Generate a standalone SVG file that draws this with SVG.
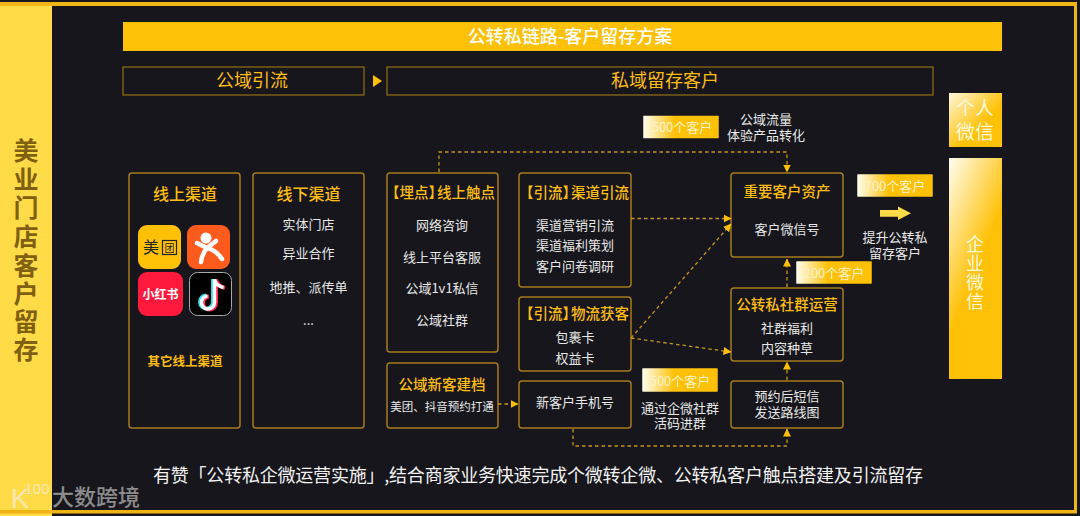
<svg xmlns="http://www.w3.org/2000/svg" width="1080" height="516" viewBox="0 0 1080 516">
<defs>
<linearGradient id="badge" x1="0" x2="1" y1="0" y2="0"><stop offset="0" stop-color="#fffdf0"/><stop offset="0.12" stop-color="#ffedb0"/><stop offset="0.42" stop-color="#ffc107"/><stop offset="1" stop-color="#ffc107"/></linearGradient>
<linearGradient id="wx" x1="0" x2="1" y1="0" y2="1"><stop offset="0" stop-color="#fff8dc"/><stop offset="0.6" stop-color="#ffc107"/></linearGradient>
<linearGradient id="wx2" x1="0" x2="0.35" y1="0" y2="0.6"><stop offset="0" stop-color="#fffdf0"/><stop offset="1" stop-color="#ffc107"/></linearGradient>
<marker id="ah" markerWidth="8" markerHeight="8" refX="7.500" refY="4" orient="auto" markerUnits="userSpaceOnUse"><path d="M0 0L8 4L0 8Z" fill="#ffc107"/></marker>
</defs>
<style>
text{font-family:"Noto Sans CJK SC","Noto Sans",sans-serif;text-anchor:middle}
.box{fill:#16161c;stroke:#a67c1a;stroke-width:1.500}
.h{fill:#ffbe0f;font-size:14.500px;font-weight:500}
.h2{fill:#ffbe0f;font-size:16px;font-weight:500}
.l{text-anchor:start}
.t{fill:#e8e8e8;font-size:13px}
.b{fill:url(#badge);stroke:#16161c;stroke-width:.5}
.bt{fill:#fff3c8;font-size:13px}
.c{fill:none;stroke:#c8951a;stroke-width:1.300;stroke-dasharray:3.500 3;marker-end:url(#ah)}
</style>
<rect width="1080" height="516" fill="#16161c"/>

<g id="sidebar"><rect x="0" y="3" width="52" height="513" fill="#ffdb47"/>
<text fill="#7f5f10" font-size="25" font-weight="700"><tspan x="26" y="160">美</tspan><tspan x="26" y="189">业</tspan><tspan x="26" y="217">门</tspan><tspan x="26" y="246">店</tspan><tspan x="26" y="275">客</tspan><tspan x="26" y="303">户</tspan><tspan x="26" y="331">留</tspan><tspan x="26" y="359">存</tspan></text></g>

<rect x="0" y="2" width="1077" height="4" fill="#f0b414"/>
<rect x="0" y="510" width="1077" height="3.500" fill="#f0b414"/>
<rect x="1074" y="2" width="3" height="511" fill="#f0b414"/>

<g id="title"><rect x="123" y="22" width="879" height="29" fill="#ffc107"/><text x="570" y="42.500" fill="#fff" font-size="18" font-weight="500">公转私链路-客户留存方案</text></g>
<g id="public-head"><rect x="123" y="67" width="241" height="28" fill="none" stroke="#8a6a18" stroke-width="1.300"/><text x="252" y="87" fill="#ffbe0f" font-size="18">公域引流</text></g>
<path d="M373 75L382 81L373 87Z" fill="#ffc107"/>
<g id="private-head"><rect x="387" y="67" width="546" height="28" fill="none" stroke="#8a6a18" stroke-width="1.300"/><text x="665" y="87" fill="#ffbe0f" font-size="18">私域留存客户</text></g>

<g id="online"><rect class="box" x="129" y="173" width="111" height="255" rx="3"/><text class="h2" x="185" y="200">线上渠道</text>
<rect x="138" y="225" width="43" height="44" rx="9" fill="#ffc107"/><text x="151" y="253" fill="#222" font-size="16">美</text><rect x="162.500" y="240.500" width="14" height="14" fill="none" stroke="#222" stroke-width="1.200"/><text x="169.500" y="251.500" fill="#222" font-size="10">团</text>
<rect x="187" y="225" width="43" height="44" rx="9" fill="#fd5a1e"/><circle cx="206" cy="238" r="5.500" fill="#fff"/><path d="M197 243L207 248L216 241M207 248Q202 254 201 262M207 248Q216 250 222 259" fill="none" stroke="#fff" stroke-width="4.500" stroke-linecap="round"/>
<rect x="138" y="272" width="45" height="44" rx="9" fill="#ff1a3d"/><text x="160.500" y="298.500" fill="#fff" font-size="12" font-weight="700">小红书</text>
<rect x="189.500" y="272.500" width="42" height="43" rx="8" fill="#000" stroke="#aaa" stroke-width="1"/><path d="M213 279V302A6.500 6.500 0 1 1 206 295.500" fill="none" stroke="#28e0e8" stroke-width="4"/><path d="M216 279V303A6.500 6.500 0 1 1 209 296.500M216 280Q218 286 225 288" fill="none" stroke="#ff2a55" stroke-width="4"/><path d="M214.500 279V302.500A6.500 6.500 0 1 1 207.500 296M214.500 280Q216.500 286 223.500 287.500" fill="none" stroke="#fff" stroke-width="3.500"/>
<text x="185" y="366" fill="#ffbe0f" font-size="12.500" font-weight="700">其它线上渠道</text></g>

<g id="offline"><rect class="box" x="253" y="173" width="111" height="255" rx="3"/><text class="h2" x="308.500" y="200">线下渠道</text>
<text class="t" x="308.500" y="229">实体门店</text><text class="t" x="308.500" y="258">异业合作</text><text class="t" x="308.500" y="292">地推、派传单</text><text class="t" x="308.500" y="325">...</text></g>

<g id="touch"><rect class="box" x="387" y="173" width="111" height="179" rx="3"/><text class="h l" x="385" y="198">【埋点】<tspan dx="-6">线上触点</tspan></text>
<text class="t" x="442" y="230">网络咨询</text><text class="t" x="442" y="262">线上平台客服</text><text class="t" x="442" y="293">公域1v1私信</text><text class="t" x="442" y="325">公域社群</text></g>

<g id="archive"><rect class="box" x="387" y="363" width="111" height="65" rx="3"/><text class="h" x="442" y="390">公域新客建档</text><text class="t" x="442" y="411" style="font-size:11.500px">美团、抖音预约打通</text></g>

<g id="channel"><rect class="box" x="519" y="173" width="112" height="114" rx="3"/><text class="h l" x="519" y="198">【引流】<tspan dx="-6">渠道引流</tspan></text>
<text class="t" x="575" y="230">渠道营销引流</text><text class="t" x="575" y="250">渠道福利策划</text><text class="t" x="575" y="271">客户问卷调研</text></g>

<g id="logistics"><rect class="box" x="519" y="297" width="112" height="74" rx="3"/><text class="h l" x="519" y="319">【引流】<tspan dx="-6">物流获客</tspan></text><text class="t" x="575" y="342">包裹卡</text><text class="t" x="575" y="363">权益卡</text></g>

<g id="phone"><rect class="box" x="519" y="381" width="112" height="47" rx="3"/><text class="t" x="575" y="407">新客户手机号</text></g>

<g id="asset"><rect class="box" x="731" y="173" width="112" height="84" rx="3"/><text class="h" x="787" y="197">重要客户资产</text><text class="t" x="787" y="234">客户微信号</text></g>

<g id="community"><rect class="box" x="731" y="288" width="112" height="73" rx="3"/><text class="h" x="787" y="310">公转私社群运营</text><text class="t" x="787" y="333">社群福利</text><text class="t" x="787" y="353">内容种草</text></g>

<g id="sms"><rect class="box" x="731" y="381" width="112" height="47" rx="3"/><text class="t" x="787" y="401">预约后短信</text><text class="t" x="787" y="417">发送路线图</text></g>

<g id="connectors">
<path class="c" d="M439 172V152H787V172"/>
<path class="c" d="M631 218.500H731"/>
<path class="c" d="M631 338L731 224"/>
<path class="c" d="M631 338L731 352"/>
<path class="c" d="M498 404H518"/>
<path class="c" d="M573 429V446H787V429"/>
<path class="c" d="M787 380V362"/>
<path class="c" d="M787 287V259"/>
</g>

<g id="badge-1"><rect class="b" x="643" y="115.500" width="76" height="23" rx="1"/><text class="bt" x="682" y="132">500个客户</text></g>
<g id="badge-2"><rect class="b" x="642" y="368" width="76" height="24" rx="1"/><text class="bt" x="680" y="386">500个客户</text></g>
<g id="badge-3"><rect class="b" x="857" y="174" width="76" height="23" rx="1"/><text class="bt" x="895" y="191">700个客户</text></g>
<g id="badge-4"><rect class="b" x="796" y="261" width="76" height="23" rx="1"/><text class="bt" x="834" y="278">200个客户</text></g>

<g id="notes">
<text class="t" x="766" y="124">公域流量</text><text class="t" x="766" y="140">体验产品转化</text>
<text class="t" x="680" y="413">通过企微社群</text><text class="t" x="680" y="428">活码进群</text>
<text class="t" x="895" y="242">提升公转私</text><text class="t" x="895" y="258">留存客户</text>
</g>
<path id="big-arrow" d="M880 210H898V206.500L911 213.300L898 220V216.700H880Z" fill="#ffdb47"/>

<g id="wechat-personal"><rect x="949" y="93" width="53" height="54" fill="url(#wx)"/><text fill="#fff8dc" font-size="19"><tspan x="975" y="115">个人</tspan><tspan x="975" y="139">微信</tspan></text></g>
<g id="wechat-work"><rect x="949" y="158" width="53" height="221" fill="url(#wx2)"/><text fill="#fff8dc" font-size="18"><tspan x="975" y="251">企</tspan><tspan x="975" y="270">业</tspan><tspan x="975" y="289">微</tspan><tspan x="975" y="308">信</tspan></text></g>

<text id="footer" x="538" y="482" fill="#f2f2f2" font-size="18" textLength="770" lengthAdjust="spacing">有赞「公转私企微运营实施」,结合商家业务快速完成个微转企微、公转私客户触点搭建及引流留存</text>

<g id="watermark" opacity=".8"><text x="20" y="508" fill="#f4ecd0" font-size="28" style="font-family:'Liberation Sans',sans-serif">K</text><text x="37" y="494" fill="#f4ecd0" font-size="15" style="font-family:'Liberation Sans',sans-serif">100</text><text x="96" y="505" fill="#aaa" font-size="22" font-weight="500">大数跨境</text></g>
</svg>
